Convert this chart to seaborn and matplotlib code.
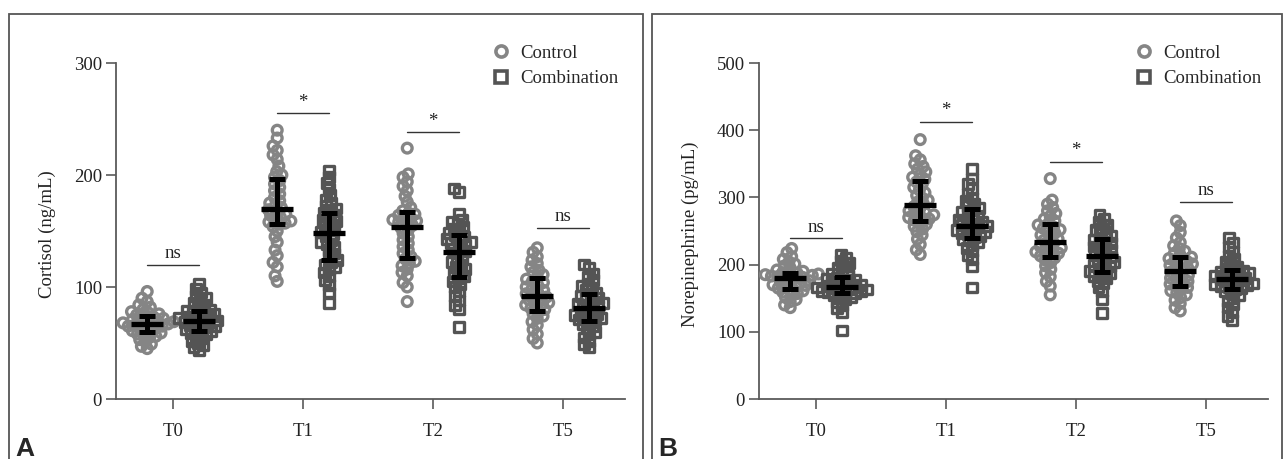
import numpy as np
import pandas as pd
import matplotlib
matplotlib.use("Agg")
import matplotlib.pyplot as plt
from matplotlib.lines import Line2D
from matplotlib.patches import Rectangle
import seaborn as sns

# ---------------- data ----------------
times = ["T0", "T1", "T2", "T5"]
groups = ["Control", "Combination"]
sig_labels = ["ns", "*", "*", "ns"]

# Cortisol (ng/mL)
cort_ctrl_T0 = [45, 47, 49, 51, 53, 55, 56, 57, 58, 59, 60, 61, 62, 63, 64, 65, 65, 66, 66, 67,
                67, 68, 69, 69, 70, 71, 71, 72, 73, 74, 75, 76, 77, 78, 80, 82, 84, 87, 90, 96]
cort_comb_T0 = [44, 46, 48, 50, 52, 54, 56, 58, 59, 60, 61, 62, 63, 64, 65, 66, 67, 68, 69, 70,
                70, 71, 72, 73, 74, 75, 76, 77, 78, 79, 80, 82, 84, 86, 88, 90, 92, 95, 98, 103]
cort_ctrl_T1 = [105, 110, 118, 122, 128, 133, 140, 145, 150, 154, 156, 157, 158, 159, 160, 162, 164, 165, 167, 169,
                171, 173, 175, 177, 180, 183, 186, 189, 192, 195, 198, 200, 203, 208, 214, 218, 222, 226, 233, 240]
cort_comb_T1 = [86, 95, 102, 106, 110, 113, 116, 118, 120, 122, 124, 127, 130, 133, 136, 138, 140, 142, 145, 147,
                149, 151, 153, 155, 157, 159, 160, 162, 164, 166, 168, 170, 172, 175, 178, 182, 188, 193, 198, 204]
cort_ctrl_T2 = [87, 100, 104, 110, 113, 116, 119, 121, 123, 125, 127, 130, 133, 136, 139, 142, 145, 148, 151, 153,
                155, 157, 158, 159, 160, 161, 162, 164, 165, 166, 168, 171, 176, 181, 186, 190, 194, 198, 201, 224]
cort_comb_T2 = [64, 80, 84, 88, 92, 96, 100, 103, 105, 108, 110, 112, 114, 116, 118, 120, 122, 124, 127, 130,
                132, 134, 136, 138, 139, 140, 142, 143, 145, 146, 148, 150, 152, 154, 156, 158, 160, 165, 185, 188]
cort_ctrl_T5 = [50, 54, 58, 62, 66, 69, 72, 74, 76, 78, 80, 81, 83, 84, 85, 86, 88, 89, 90, 91,
                93, 94, 96, 97, 99, 100, 102, 104, 105, 107, 109, 111, 113, 115, 118, 121, 124, 127, 131, 135]
cort_comb_T5 = [46, 49, 52, 55, 58, 60, 63, 65, 67, 69, 70, 71, 72, 73, 74, 75, 76, 77, 78, 80,
                82, 83, 84, 85, 86, 88, 89, 90, 92, 93, 95, 97, 99, 101, 103, 106, 109, 112, 117, 120]

# Norepinephrine (pg/mL)
ne_ctrl_T0 = [136, 140, 145, 148, 151, 154, 157, 159, 161, 163, 165, 166, 168, 169, 170, 172, 173, 174, 176, 178,
              180, 181, 182, 183, 184, 185, 186, 186, 187, 188, 190, 192, 195, 198, 201, 204, 208, 212, 218, 224]
ne_comb_T0 = [102, 130, 135, 140, 144, 148, 151, 153, 155, 157, 158, 159, 160, 161, 162, 163, 164, 165, 166, 167,
              168, 169, 170, 172, 174, 175, 177, 178, 179, 181, 183, 186, 189, 192, 195, 198, 202, 206, 210, 215]
ne_ctrl_T1 = [215, 222, 230, 238, 244, 249, 253, 257, 260, 263, 266, 268, 270, 272, 274, 276, 278, 280, 283, 286,
              290, 293, 296, 299, 303, 307, 311, 315, 319, 323, 327, 330, 334, 338, 342, 346, 350, 356, 362, 386]
ne_comb_T1 = [166, 197, 208, 214, 220, 225, 229, 233, 236, 238, 241, 243, 245, 247, 249, 251, 252, 254, 256, 257,
              259, 261, 263, 265, 267, 270, 273, 276, 278, 281, 284, 287, 291, 295, 300, 306, 313, 320, 328, 342]
ne_ctrl_T2 = [155, 168, 175, 182, 188, 193, 198, 203, 207, 210, 213, 215, 217, 219, 221, 223, 225, 227, 229, 232,
              236, 238, 241, 244, 247, 250, 252, 254, 256, 259, 262, 265, 268, 272, 276, 280, 285, 290, 296, 328]
ne_comb_T2 = [128, 148, 160, 167, 172, 176, 180, 183, 185, 187, 190, 192, 194, 197, 199, 201, 204, 206, 209, 212,
              214, 217, 220, 222, 225, 227, 230, 232, 235, 237, 240, 243, 246, 249, 252, 255, 259, 263, 268, 274]
ne_ctrl_T5 = [131, 136, 142, 147, 151, 155, 158, 161, 164, 166, 169, 171, 173, 175, 178, 180, 182, 184, 187, 189,
              193, 195, 197, 199, 201, 203, 205, 207, 209, 211, 214, 217, 220, 224, 228, 233, 240, 248, 258, 265]
ne_comb_T5 = [118, 124, 130, 136, 141, 146, 150, 154, 158, 161, 164, 165, 167, 168, 169, 171, 172, 173, 175, 177,
              179, 180, 182, 183, 184, 186, 187, 189, 190, 191, 194, 197, 200, 204, 208, 213, 219, 226, 233, 240]

# median and interquartile range
cort_ctrl_med = [67, 170, 154, 92]
cort_ctrl_q1 = [60, 156, 126, 79]
cort_ctrl_q3 = [74, 196, 167, 108]
cort_comb_med = [70, 148, 131, 81]
cort_comb_q1 = [61, 124, 109, 70]
cort_comb_q3 = [79, 166, 146, 94]

ne_ctrl_med = [180, 288, 234, 191]
ne_ctrl_q1 = [164, 265, 212, 168]
ne_ctrl_q3 = [188, 325, 260, 212]
ne_comb_med = [167, 258, 213, 178]
ne_comb_q1 = [158, 240, 189, 163]
ne_comb_q3 = [181, 282, 238, 192]

cort_sig_y = [120, 255, 238, 153]
ne_sig_y = [239, 412, 353, 293]

cort_ticks = [0, 100, 200, 300]
ne_ticks = [0, 100, 200, 300, 400, 500]


def long_frame(ctrl_lists, comb_lists):
    rows = []
    for t, c, m in zip(times, ctrl_lists, comb_lists):
        rows += [(t, "Control", v) for v in c]
        rows += [(t, "Combination", v) for v in m]
    return pd.DataFrame(rows, columns=["time", "group", "value"])


cort_df = long_frame([cort_ctrl_T0, cort_ctrl_T1, cort_ctrl_T2, cort_ctrl_T5],
                     [cort_comb_T0, cort_comb_T1, cort_comb_T2, cort_comb_T5])
ne_df = long_frame([ne_ctrl_T0, ne_ctrl_T1, ne_ctrl_T2, ne_ctrl_T5],
                   [ne_comb_T0, ne_comb_T1, ne_comb_T2, ne_comb_T5])

# ---------------- style ----------------
sns.set_style("ticks")
plt.rcParams["font.family"] = ["Liberation Serif", "DejaVu Serif"]
plt.rcParams["axes.linewidth"] = 1.3

CTRL_COLOR = "#858585"
COMB_COLOR = "#545454"
SPINE = "#5a5a5a"
FS = 13.5
MARKER_PT = 7.0
SWARM_PT = 3.8   # spacing used for the swarm layout (points then drawn larger, overlapping)

fig = plt.figure(figsize=(12.84, 4.59), dpi=100)
W, H = 1284, 459

# panel frames
for x0, x1 in [(9, 643), (652, 1282)]:
    fig.add_artist(Rectangle((x0 / W, -0.05), (x1 - x0) / W, (H - 14) / H + 0.05,
                             transform=fig.transFigure, fill=False, ec="#555555", lw=1.3))

ax_pos = [[116 / W, 1 - 399 / H, 509 / W, 336 / H],
          [759 / W, 1 - 399 / H, 509 / W, 336 / H]]

panels = [
    (cort_df, "Cortisol (ng/mL)", cort_ticks, cort_sig_y,
     (cort_ctrl_med, cort_ctrl_q1, cort_ctrl_q3), (cort_comb_med, cort_comb_q1, cort_comb_q3), "A"),
    (ne_df, "Norepinephrine (pg/mL)", ne_ticks, ne_sig_y,
     (ne_ctrl_med, ne_ctrl_q1, ne_ctrl_q3), (ne_comb_med, ne_comb_q1, ne_comb_q3), "B"),
]

swarm_colls = []
for pos, (df, ylabel, yticks, sig_y, ctrl_stats, comb_stats, letter) in zip(ax_pos, panels):
    ax = fig.add_axes(pos)
    for g, marker, color in [("Control", "o", CTRL_COLOR), ("Combination", "s", COMB_COLOR)]:
        n0 = len(ax.collections)
        sns.swarmplot(data=df[df["group"] == g], x="time", y="value", hue="group",
                      order=times, hue_order=groups, dodge=True,
                      palette={"Control": CTRL_COLOR, "Combination": COMB_COLOR},
                      marker=marker, size=SWARM_PT, linewidth=0.5, legend=False, ax=ax)
        for coll in ax.collections[n0:]:
            coll.set_facecolor("none")
            coll.set_edgecolor(color)
            swarm_colls.append(coll)

    idx = np.arange(len(times))
    for off, (med, q1, q3) in [(-0.2, ctrl_stats), (0.2, comb_stats)]:
        med = np.array(med); q1 = np.array(q1); q3 = np.array(q3)
        xs = idx + off
        ax.errorbar(xs, med, yerr=[med - q1, q3 - med], fmt="none", ecolor="black",
                    elinewidth=3.6, capsize=5.5, capthick=3.6, zorder=5)
        ax.hlines(med, xs - 0.125, xs + 0.125, color="black", lw=3.8, zorder=6)

    for i, (yv, lab) in enumerate(zip(sig_y, sig_labels)):
        ax.plot([i - 0.2, i + 0.2], [yv, yv], color="#333333", lw=1.0)
        ax.annotate(lab, (i, yv), xytext=(0, 2), textcoords="offset points",
                    ha="center", va="bottom", fontsize=FS, color="#222222")

    ax.set_xlim(-0.44, 3.475)
    ax.set_ylim(yticks[0], yticks[-1])
    ax.set_yticks(yticks)
    ax.set_xlabel("")
    ax.set_ylabel(ylabel, fontsize=FS, color="#222222")
    ax.yaxis.set_label_coords(-0.117, 0.49)
    sns.despine(ax=ax)
    for sp in ["left", "bottom"]:
        ax.spines[sp].set_color(SPINE)
        ax.spines[sp].set_linewidth(1.3)
    ax.tick_params(axis="both", length=7, width=1.2, color=SPINE, labelsize=FS,
                   labelcolor="#222222")
    ax.tick_params(axis="x", pad=10)
    ax.tick_params(axis="y", pad=3)

    handles = [Line2D([], [], ls="none", marker="o", ms=8, mfc="none", mec=CTRL_COLOR, mew=2.6),
               Line2D([], [], ls="none", marker="s", ms=8, mfc="none", mec=COMB_COLOR, mew=2.6)]
    ax.legend(handles, groups, loc="upper left", bbox_to_anchor=(0.738, 1.055), frameon=False,
              fontsize=FS, handlelength=1.0, handletextpad=0.55, labelspacing=0.45,
              borderpad=0, borderaxespad=0)

    fig.text((15 if letter == "A" else 658) / W, 1 - 456 / H, letter, fontsize=19,
             fontweight="bold", family="Liberation Sans", ha="left", va="baseline")

# lay out the swarms with the small spacing, then freeze and enlarge the markers
fig.canvas.draw()
for coll in swarm_colls:
    if "draw" in coll.__dict__:
        del coll.__dict__["draw"]
    coll.set_sizes([MARKER_PT ** 2])
    coll.set_linewidth(2.4)

fig.savefig("out.png", dpi=100)
